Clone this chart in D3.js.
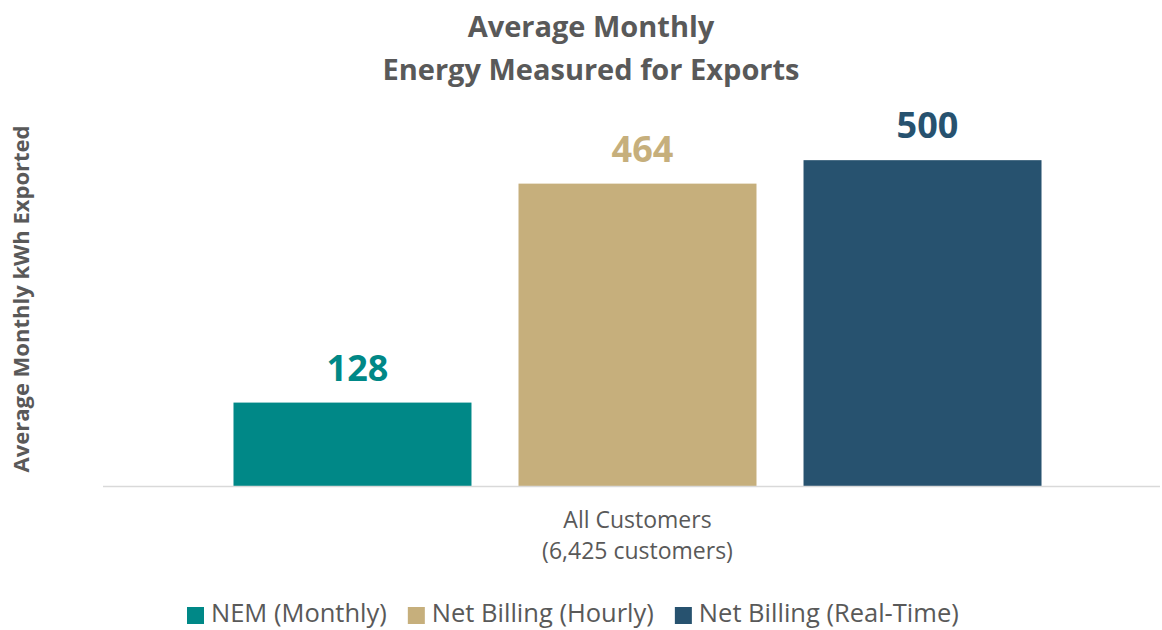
<!DOCTYPE html>
<html>
<head>
<meta charset="utf-8">
<script src="https://cdn.jsdelivr.net/npm/d3@7"></script>
<style>
  body { margin: 0; background: #fff; }
  svg text { font-family: "Open Sans", sans-serif; fill: #595959; }
</style>
</head>
<body>
<script>
const width = 1162;
const height = 630;

const categories = ["All Customers"];
const categorySub = ["(6,425 customers)"];
const series = ["NEM (Monthly)", "Net Billing (Hourly)", "Net Billing (Real-Time)"];
const values = [128, 464, 500];
const colors = ["#008887", "#c6af7c", "#27526f"];

const margin = { left: 103, right: -10, top: 95, bottom: 144 };

const svg = d3.select("body")
    .append("svg")
    .attr("width", width)
    .attr("height", height);

// title
svg.append("text")
    .attr("x", 591)
    .attr("y", 37)
    .attr("text-anchor", "middle")
    .style("font-size", "29px")
    .style("font-weight", "bold")
    .text("Average Monthly");
svg.append("text")
    .attr("x", 591)
    .attr("y", 80)
    .attr("text-anchor", "middle")
    .style("font-size", "29px")
    .style("font-weight", "bold")
    .text("Energy Measured for Exports");

const x0 = d3.scaleBand()
    .domain(categories)
    .range([margin.left, width - margin.right])
    .paddingOuter(0.1615);

const x1 = d3.scaleBand()
    .domain(series)
    .range([0, x0.bandwidth()])
    .paddingInner(0.165);

const y = d3.scaleLinear()
    .domain([0, 600])
    .range([height - margin.bottom, margin.top]);

// bars
const group = svg.append("g")
    .attr("transform", `translate(${x0(categories[0])},0)`);

group.selectAll("rect")
    .data(values)
    .enter()
    .append("rect")
    .attr("x", (d, i) => x1(series[i]))
    .attr("y", d => y(d))
    .attr("width", x1.bandwidth())
    .attr("height", d => y(0) - y(d))
    .attr("fill", (d, i) => colors[i]);

group.selectAll("text.value")
    .data(values)
    .enter()
    .append("text")
    .attr("class", "value")
    .attr("x", (d, i) => x1(series[i]) + x1.bandwidth() / 2 + 5)
    .attr("y", d => y(d) - 22)
    .attr("text-anchor", "middle")
    .style("font-size", "36px")
    .style("font-weight", "bold")
    .style("fill", (d, i) => colors[i])
    .text(d => d);

// axis baseline
svg.append("line")
    .attr("x1", margin.left)
    .attr("x2", width - 2)
    .attr("y1", y(0) + 0.5)
    .attr("y2", y(0) + 0.5)
    .attr("stroke", "#d9d9d9")
    .attr("stroke-width", 1.5);

// category labels
const cx = x0(categories[0]) + x0.bandwidth() / 2;
svg.append("text")
    .attr("x", cx)
    .attr("y", y(0) + 42)
    .attr("text-anchor", "middle")
    .style("font-size", "23px")
    .text(categories[0]);
svg.append("text")
    .attr("x", cx)
    .attr("y", y(0) + 73)
    .attr("text-anchor", "middle")
    .style("font-size", "23px")
    .text(categorySub[0]);

// y axis title
svg.append("text")
    .attr("transform", "translate(29,299) rotate(-90)")
    .attr("text-anchor", "middle")
    .style("font-size", "22px")
    .style("font-weight", "bold")
    .text("Average Monthly kWh Exported");

// legend
const legend = svg.append("g")
    .attr("transform", "translate(0,614)");
let lx = 187;
series.forEach((s, i) => {
    const item = legend.append("g").attr("transform", `translate(${lx},0)`);
    item.append("rect")
        .attr("x", 0)
        .attr("y", -7)
        .attr("width", 17)
        .attr("height", 17)
        .attr("fill", colors[i]);
    const t = item.append("text")
        .attr("x", 24)
        .attr("y", 7.5)
        .style("font-size", "25.5px")
        .text(s);
    lx += 24 + t.node().getComputedTextLength() + 21;
});
</script>
</body>
</html>
